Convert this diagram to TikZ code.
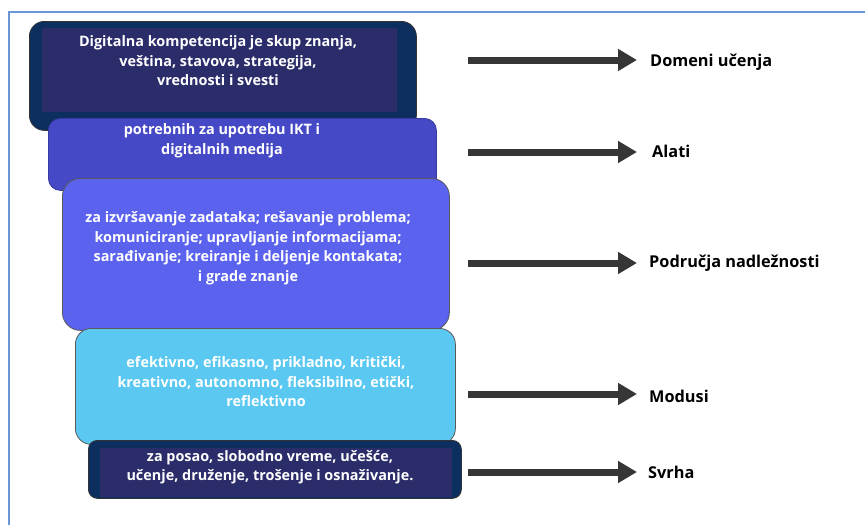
\documentclass[tikz,border=0pt]{standalone}
\usepackage{fontspec}
\setmainfont{Open Sans}
\usetikzlibrary{arrows.meta}
\definecolor{frameblue}{HTML}{6A95D6}
\definecolor{navyout}{HTML}{0C2F60}
\definecolor{navyin}{HTML}{2B2C6A}
\definecolor{cbtwo}{HTML}{4549C5}
\definecolor{cbthree}{HTML}{5A62EE}
\definecolor{cbfour}{HTML}{5AC8F0}
\definecolor{arrowgray}{HTML}{363636}
\tikzset{
  boxshape/.style={draw=#1, line width=0.8pt, anchor=north west, inner sep=0pt},
  innerrect/.style={fill=navyin, draw=none, anchor=north west, inner sep=0pt},
  boxtext/.style={text=white, font=\bfseries\fontsize{14.4}{19.5}\selectfont, align=center, inner sep=0pt},
  labeltext/.style={text=black, font=\bfseries\fontsize{16.3}{18}\selectfont, anchor=west, inner sep=0pt},
  bigarrow/.style={draw=arrowgray, line width=7pt, -{Triangle[length=19pt,width=21pt]}}
}
\begin{document}
\begin{tikzpicture}[x=1pt,y=-1pt]
\useasboundingbox (0,0) rectangle (865,525);
\fill[white] (0,0) rectangle (865,525);
% frame
\draw[frameblue, line width=1.5pt] (9,525) -- (9,12) -- (865,12);

% box 1
\node[boxshape=black!80, fill=navyout, rounded corners=15pt, minimum width=387pt, minimum height=109pt] (b1) at (29,21) {};
\node[innerrect, minimum width=355pt, minimum height=84pt] (b1i) at (42,28) {};
\node[boxtext] (t1) at (218,61) {Digitalna kompetencija je skup znanja,\\veština, stavova, strategija,\\vrednosti i svesti};

% box 2
\node[boxshape=cbtwo!80!black, fill=cbtwo, rounded corners=12pt, minimum width=388pt, minimum height=72pt] (b2) at (48,118) {};
\node[boxtext] (t2) at (222,141) {potrebnih za upotrebu IKT i\\digitalnih medija};

% box 3
\node[boxshape=gray!70!black, fill=cbthree, rounded corners=18pt, minimum width=387pt, minimum height=152pt] (b3) at (62,178) {};
\node[boxtext] (t3) at (248,248) {za izvršavanje zadataka; rešavanje problema;\\komuniciranje; upravljanje informacijama;\\sarađivanje; kreiranje i deljenje kontakata;\\i grade znanje};

% box 4
\node[boxshape=gray!70!black, fill=cbfour, rounded corners=16pt, minimum width=380pt, minimum height=116pt] (b4) at (75,328) {};
\node[boxtext] (t4) at (266,382) {efektivno, efikasno, prikladno, kritički,\\kreativno, autonomno, fleksibilno, etički,\\reflektivno};

% box 5
\node[boxshape=black!80, fill=navyout, rounded corners=9pt, minimum width=373pt, minimum height=58pt] (b5) at (88,440) {};
\node[innerrect, minimum width=352pt, minimum height=49pt] (b5i) at (100,448) {};
\node[boxtext] (t5) at (270,467) {za posao, slobodno vreme, učešće,\\učenje, druženje, trošenje i osnaživanje.};

% arrows and labels
\coordinate (s1) at (468,60);  \coordinate (e1) at (637,60);
\coordinate (s2) at (468,152); \coordinate (e2) at (637,152);
\coordinate (s3) at (468,263); \coordinate (e3) at (637,263);
\coordinate (s4) at (468,394); \coordinate (e4) at (637,394);
\coordinate (s5) at (468,472); \coordinate (e5) at (637,472);
\draw[bigarrow] (s1) -- (e1);
\draw[bigarrow] (s2) -- (e2);
\draw[bigarrow] (s3) -- (e3);
\draw[bigarrow] (s4) -- (e4);
\draw[bigarrow] (s5) -- (e5);
\node[labeltext] (l1) at (650,62) {Domeni učenja};
\node[labeltext] (l2) at (652,151) {Alati};
\node[labeltext] (l3) at (649,263) {Područja nadležnosti};
\node[labeltext] (l4) at (649,396) {Modusi};
\node[labeltext] (l5) at (648,472) {Svrha};
\end{tikzpicture}
\end{document}
